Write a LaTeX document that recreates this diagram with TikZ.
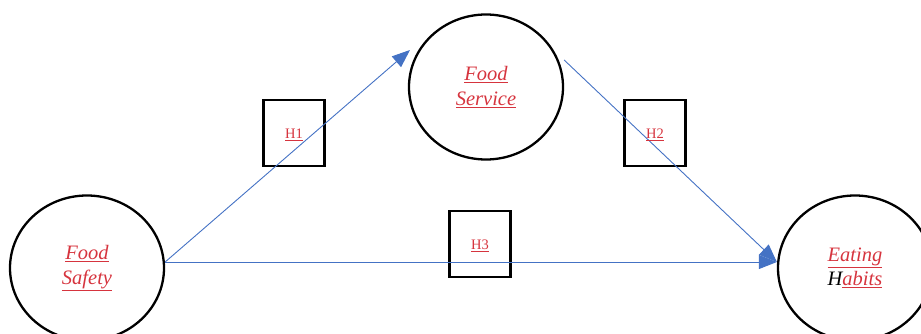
\documentclass[tikz,border=0pt]{standalone}
\usepackage{fontspec}
\setmainfont{Liberation Serif}
\usetikzlibrary{arrows.meta,shapes.geometric}
\definecolor{linkblue}{HTML}{4472C4}
\definecolor{labelred}{RGB}{214,52,62}
\newcommand{\ulred}[1]{\textcolor{labelred}{\underline{#1}}}
\begin{document}
\begin{tikzpicture}[x=1pt,y=-1pt,
  construct/.style={ellipse,draw=black,line width=2.3pt,inner sep=0pt,
    minimum width=154pt,minimum height=145pt,align=center,
    font=\fontsize{20.5}{24.5}\selectfont\itshape},
  hypbox/.style={rectangle,draw=black,line width=2.8pt,inner sep=0pt,
    minimum width=61pt,minimum height=66pt},
  hyplabel/.style={font=\fontsize{14.5}{17}\selectfont,yshift=-2pt},
  link/.style={draw=linkblue,line width=0.9pt,
    -{Triangle[length=18pt,width=14pt]}}]
\useasboundingbox (0,0) rectangle (921,334);
% constructs
\node[construct] (safety)  at (87,268)  {\ulred{Food}\\\ulred{Safety}};
\node[construct] (service) at (486,87)  {\ulred{Food}\\\ulred{Service}};
\node[construct] (habits)  at (855,268) {\ulred{Eating}\\H\ulred{abits}};
% hypotheses
\node[hypbox] (h1) at (294,133) {};
\node[hypbox] (h2) at (655,133) {};
\node[hypbox] (h3) at (480,244) {};
% paths
\draw[link] ([yshift=6pt]safety.east) -- ([xshift=-76pt,yshift=37pt]service.center);
\draw[link] ([yshift=27pt]service.east) -- ([yshift=6pt]habits.west);
\draw[link] ([yshift=6pt]safety.east) -- ([yshift=6pt]habits.west);
% hypothesis labels
\node[hyplabel] at (h1.center) {\ulred{H1}};
\node[hyplabel] at (h2.center) {\ulred{H2}};
\node[hyplabel] at (h3.center) {\ulred{H3}};
\end{tikzpicture}
\end{document}
